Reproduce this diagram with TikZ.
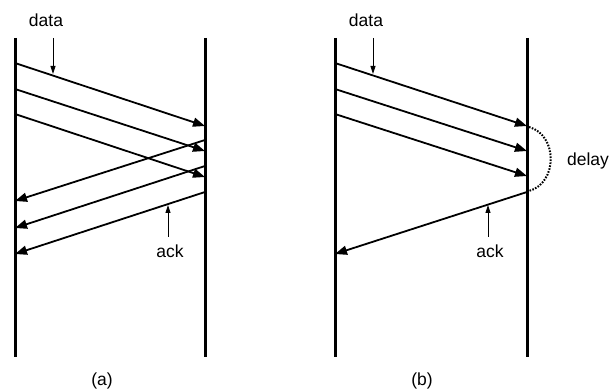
\documentclass[tikz,border=0pt]{standalone}
\usepackage{fontspec}
\setmainfont{Liberation Sans}
\usetikzlibrary{arrows.meta}
\begin{document}
\begin{tikzpicture}[x=1pt,y=-1pt,
  timeline/.style={line width=3pt},
  msg/.style={line width=1.8pt,-{Triangle[length=12pt,width=9pt]}},
  pointer/.style={line width=0.9pt,-{Triangle[length=8pt,width=5pt]}},
  lbl/.style={font=\fontsize{17.5}{20}\selectfont,inner sep=0pt}]
\useasboundingbox (0,0) rectangle (614,390);
% ---------- (a)
\coordinate (aLt) at (15,38);  \coordinate (aLb) at (15,357);
\coordinate (aRt) at (205,38); \coordinate (aRb) at (205,357);
\draw[timeline] (aLt) -- (aLb);
\draw[timeline] (aRt) -- (aRb);
\coordinate (ad1s) at (15,63);  \coordinate (ad1e) at (205,126);
\coordinate (ad2s) at (15,89);  \coordinate (ad2e) at (205,151);
\coordinate (ad3s) at (15,114); \coordinate (ad3e) at (205,177);
\draw[msg] (ad1s) -- (ad1e);
\draw[msg] (ad2s) -- (ad2e);
\draw[msg] (ad3s) -- (ad3e);
\coordinate (aa1s) at (205,140); \coordinate (aa1e) at (15,201);
\coordinate (aa2s) at (205,166); \coordinate (aa2e) at (15,228);
\coordinate (aa3s) at (205,192); \coordinate (aa3e) at (15,254);
\draw[msg] (aa1s) -- (aa1e);
\draw[msg] (aa2s) -- (aa2e);
\draw[msg] (aa3s) -- (aa3e);
\node[lbl] (adata) at (46,20) {data};
\coordinate (adatat) at (53,74);
\draw[pointer] (53,38) -- (adatat);
\node[lbl] (aack) at (170,251) {ack};
\coordinate (aackt) at (168,205);
\draw[pointer] (168,237) -- (aackt);
\node[lbl] (acap) at (102,381) {(a)};
% ---------- (b)
\coordinate (bLt) at (335,38);  \coordinate (bLb) at (335,357);
\coordinate (bRt) at (527,38);  \coordinate (bRb) at (527,357);
\draw[timeline] (bLt) -- (bLb);
\draw[timeline] (bRt) -- (bRb);
\coordinate (bd1s) at (335,63);  \coordinate (bd1e) at (527,126);
\coordinate (bd2s) at (335,89);  \coordinate (bd2e) at (527,151);
\coordinate (bd3s) at (335,114); \coordinate (bd3e) at (527,176);
\draw[msg] (bd1s) -- (bd1e);
\draw[msg] (bd2s) -- (bd2e);
\draw[msg] (bd3s) -- (bd3e);
\coordinate (bas) at (527,192); \coordinate (bae) at (335,254);
\draw[msg] (bas) -- (bae);
\draw[line width=2pt,dash pattern=on 1.6pt off 1.4pt] (529,127) .. controls (558,135) and (558,183) .. (529,191);
\node[lbl] (bdelay) at (588,161) {delay};
\node[lbl] (bdata) at (366,20) {data};
\coordinate (bdatat) at (373,74);
\draw[pointer] (373,38) -- (bdatat);
\node[lbl] (back) at (490,251) {ack};
\coordinate (backt) at (488,205);
\draw[pointer] (488,237) -- (backt);
\node[lbl] (bcap) at (422,381) {(b)};
\end{tikzpicture}
\end{document}
